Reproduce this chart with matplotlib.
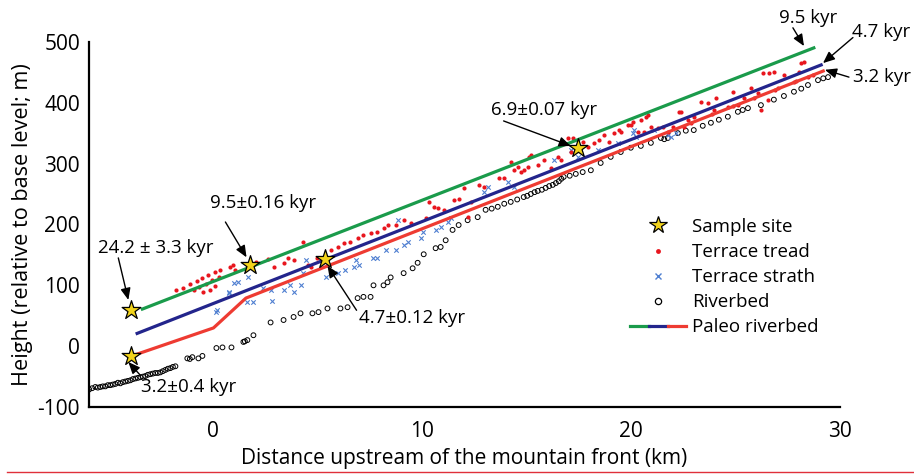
import matplotlib
matplotlib.use('Agg')
import matplotlib.pyplot as plt
from matplotlib.lines import Line2D
from matplotlib.legend_handler import HandlerTuple

plt.rcParams['font.family'] = ['Open Sans', 'DejaVu Sans']
plt.rcParams['axes.unicode_minus'] = False
FS = 13.5

# riverbed profile (km, m)
river_x = [-5.89, -5.75, -5.60, -5.48, -5.36, -5.24, -5.12, -5.00, -4.88, -4.76, -4.64, -4.52,
           -4.40, -4.28, -4.16, -4.04, -3.92, -3.80, -3.68, -3.56, -3.44, -3.32, -3.21, -3.09,
           -2.97, -2.85, -2.73, -2.61, -2.49, -2.37, -2.25, -2.13, -2.01, -1.89, -1.77,
           -1.20, -1.08, -0.96, -0.67, -0.48, 0.19, 0.48, 0.91,
           1.48, 1.55, 1.67, 1.96, 2.78, 3.40, 3.88, 4.21, 4.78, 5.07, 5.50, 6.12, 6.46, 6.94, 7.22,
           7.56, 7.70, 8.18, 8.37, 8.52, 9.14, 9.57, 9.81, 10.10, 10.67, 10.91, 11.15, 11.48,
           11.77, 12.20, 12.68, 13.06, 13.35, 13.64, 13.95, 14.26, 14.57, 14.88, 15.05, 15.22,
           15.40, 15.55, 15.75, 15.93, 16.10, 16.27, 16.42, 16.56, 16.68, 16.79, 17.08, 17.37,
           17.70, 18.09, 18.56, 19.04, 19.52, 20.00, 20.48, 20.96, 21.44, 21.60, 21.77, 22.25,
           22.63, 23.01, 23.44, 23.83, 24.21, 24.64, 25.12, 25.35, 25.60, 26.22, 26.84, 27.32,
           27.80, 28.15, 28.47, 28.95, 29.20, 29.43]
river_y = [-71, -69, -67, -68, -67, -66, -66, -64, -64, -63, -62, -60,
           -61, -59, -58, -57, -56, -54, -53, -52, -51, -50, -49, -47,
           -46, -45, -44, -44, -43, -41, -39, -37, -36, -34, -33,
           -20, -21, -18, -20, -16, -3, -2, -2,
           7, 8, 10, 18, 39, 43, 48, 54, 54, 56, 62, 62, 64, 79, 81,
           81, 100, 100, 105, 113, 120, 128, 137, 151, 161, 163, 174, 191,
           199, 207, 212, 224, 226, 229, 234, 237, 241, 245, 247, 250,
           253, 255, 257, 260, 263, 265, 268, 271, 275, 278, 280, 283,
           286, 289, 301, 311, 319, 326, 329, 334, 342, 340, 342, 350,
           354, 355, 362, 367, 372, 377, 385, 388, 391, 396, 405, 411,
           418, 423, 429, 437, 440, 442]

# terrace tread points
tread_x = [-1.72, -1.39, -1.05, -0.86, -0.72, -0.62, -0.48, -0.43, -0.29, -0.19, -0.10, 0.00,
           0.10, 0.14, 0.29, 0.38, 0.96, 1.10, 0.86, 2.06, 2.68, 2.92, 3.40, 3.59, 3.88, 4.31,
           4.55, 4.69, 5.02, 5.65, 5.98, 6.27, 6.60, 6.94, 7.22, 7.56, 7.89, 8.18, 8.37, 8.76,
           9.14, 9.47, 10.19, 10.33, 10.57, 10.77, 11.05, 11.53, 11.77, 12.01, 12.20, 12.34,
           12.73, 12.97, 13.68, 13.92, 14.26, 14.40, 14.59, 14.74, 14.88, 15.07, 15.12, 15.22,
           15.55, 15.84, 16.17, 16.51, 16.65, 16.99, 17.22, 17.13, 17.70, 17.94, 18.23, 18.47,
           18.71, 18.95, 19.19, 19.43, 19.52, 19.86, 20.00, 20.10, 20.33, 20.48, 20.62, 20.72,
           20.81, 20.96, 21.29, 21.53, 21.77, 22.01, 22.30, 22.39, 22.54, 22.73, 23.01, 23.35,
           23.68, 23.97, 24.07, 24.64, 24.88, 25.12, 25.41, 25.74, 26.08, 26.22, 26.32, 26.60,
           26.84, 27.03, 26.56, 27.32, 27.80, 28.04, 28.13, 28.28, 28.47,
           22.9, 23.9, 24.9, 25.9, 26.9, 27.9, 28.7]
tread_y = [92, 95, 102, 92, 107, 97, 112, 89, 102, 117, 92, 109,
           122, 99, 113, 125, 133, 125, 130, 138, 143, 130, 137, 145, 141, 171,
           133, 130, 145, 158, 163, 169, 171, 178, 183, 186, 188, 194, 199, 199,
           207, 202, 211, 237, 229, 227, 224, 240, 242, 260, 212, 237,
           265, 262, 276, 276, 303, 289, 294, 286, 289, 294, 311, 314,
           298, 306, 293, 311, 306, 342, 342, 319, 336, 327, 334, 339,
           347, 336, 350, 355, 352, 363, 363, 368, 352, 372, 352, 377,
           380, 360, 359, 360, 352, 360, 385, 385, 360, 372, 377, 401,
           400, 388, 408, 393, 418, 396, 408, 424, 416, 388, 449, 449,
           451, 424, 405, 446, 434, 451, 465, 467, 442,
           366, 381, 395, 408, 421, 436, 446]

# terrace strath points
strath_x = [1.05, 0.81, 0.19, 0.24, 0.77, 1.24, 1.72, 1.67, 1.96, 2.87, 2.44, 2.78, 3.40,
            3.73, 3.88, 4.21, 4.35, 4.45, 5.41, 5.98, 6.36, 6.75, 6.84, 6.99, 7.66, 7.89,
            8.28, 8.76, 8.85, 9.14, 9.33, 9.95, 10.05, 10.67, 10.91, 11.24, 11.39, 12.97,
            13.16, 14.11, 14.40, 16.32, 17.13, 17.46, 18.42, 19.38, 20.10, 20.14, 20.24,
            21.10, 21.77, 21.91, 22.15]
strath_y = [104, 87, 56, 59, 89, 105, 113, 72, 72, 74, 95, 92, 92,
            100, 89, 100, 120, 141, 113, 120, 125, 130, 141, 133, 145, 145,
            158, 158, 207, 166, 171, 178, 188, 191, 196, 204, 211, 253,
            262, 270, 262, 306, 322, 311, 322, 334, 350, 355, 344,
            355, 347, 344, 350]

# sample sites
site_x = [-3.9, -3.9, 1.8, 5.4, 17.5]
site_y = [60, -16, 133, 143, 325]

# paleo riverbeds
green_x = [-3.35, 28.75]
green_y = [61, 490]
blue_x = [-3.6, 29.1]
blue_y = [21, 462]
red_x = [-3.6, 0.05, 1.6, 29.2]
red_y = [-13, 30, 79, 452]

# annotations: label, text pos, arrow tail, arrow head
ann_labels = ['24.2 ± 3.3 kyr', '9.5±0.16 kyr', '4.7±0.12 kyr', '3.2±0.4 kyr',
              '6.9±0.07 kyr', '9.5 kyr', '4.7 kyr', '3.2 kyr']
ann_text = [(-2.73, 161), (2.44, 235), (9.52, 46), (-1.15, -67),
            (15.84, 388), (28.47, 539), (31.96, 516), (32.0, 442)]
ann_tail = [(-4.50, 145), (0.62, 204), (6.89, 59), (-3.44, -48),
            (13.92, 370), (27.75, 523), (30.62, 507), (30.43, 442)]
ann_head = [(-4.02, 76), (1.63, 146), (5.50, 132), (-4.02, -26),
            (17.13, 329), (28.28, 493), (29.19, 465), (29.28, 454)]

GREEN = '#1a9b4b'
NAVY = '#23258c'
RED = '#ee3b32'
DOT = '#e8161e'
STRATH = '#4f7fd1'
STAR = '#f2d31b'

fig = plt.figure(figsize=(9.14, 4.75), dpi=100)
ax = fig.add_axes([0.0974, 0.143, 0.8216, 0.769])

ax.scatter(river_x, river_y, s=12, facecolors='none', edgecolors='black', linewidths=0.7, zorder=2)
ax.scatter(strath_x, strath_y, s=10, marker='x', color=STRATH, linewidths=0.8, zorder=2)
ax.scatter(tread_x, tread_y, s=9, color=DOT, linewidths=0, zorder=3)
ax.plot(green_x, green_y, color=GREEN, lw=2.3, zorder=4)
ax.plot(blue_x, blue_y, color=NAVY, lw=2.3, zorder=4)
ax.plot(red_x, red_y, color=RED, lw=2.3, zorder=4)
ax.scatter(site_x, site_y, s=200, marker='*', color=STAR, edgecolors='black', linewidths=0.9, zorder=6)

for lab, tp, tl, hd in zip(ann_labels, ann_text, ann_tail, ann_head):
    ax.text(tp[0], tp[1], lab, fontsize=FS, ha='center', va='center', clip_on=False, zorder=7)
    ax.annotate('', xy=hd, xytext=tl, annotation_clip=False, zorder=7,
                arrowprops=dict(arrowstyle='-|>,head_length=0.7,head_width=0.3',
                                color='black', lw=1.0, shrinkA=0, shrinkB=0))

ax.set_xlim(-5.9, 30)
ax.set_ylim(-100, 500)
ax.set_xticks([0, 10, 20, 30])
ax.set_yticks([-100, 0, 100, 200, 300, 400, 500])
ax.tick_params(length=0, labelsize=15)
ax.tick_params(axis='x', pad=10)
ax.tick_params(axis='y', pad=6.5)
for s in ['top', 'right']:
    ax.spines[s].set_visible(False)
for s in ['left', 'bottom']:
    ax.spines[s].set_linewidth(1.6)
ax.set_xlabel('Distance upstream of the mountain front (km)', fontsize=15, labelpad=4)
ax.set_ylabel('Height (relative to base level; m)', fontsize=15.6, labelpad=3)

h_star = Line2D([], [], ls='none', marker='*', markersize=13, markerfacecolor=STAR,
                markeredgecolor='black', markeredgewidth=0.9)
h_tread = Line2D([], [], ls='none', marker='o', markersize=3.5, color=DOT, markeredgewidth=0)
h_strath = Line2D([], [], ls='none', marker='x', markersize=4.5, color=STRATH, markeredgewidth=1.0)
h_river = Line2D([], [], ls='none', marker='o', markersize=4.5, markerfacecolor='none',
                 markeredgecolor='black', markeredgewidth=0.9)
h_paleo = (Line2D([], [], color=GREEN, lw=2.3), Line2D([], [], color=NAVY, lw=2.3),
           Line2D([], [], color=RED, lw=2.3))
fig.legend([h_star, h_tread, h_strath, h_river, h_paleo],
           ['Sample site', 'Terrace tread', 'Terrace strath', 'Riverbed', 'Paleo riverbed'],
           handler_map={tuple: HandlerTuple(ndivide=None, pad=0)},
           loc='upper left', bbox_to_anchor=(630 / 914, 1 - 218 / 475),
           bbox_transform=fig.transFigure, frameon=False, fontsize=FS,
           handlelength=3.0, handletextpad=0.3, labelspacing=0.38,
           borderpad=0, borderaxespad=0)

fig.add_artist(Line2D([0.008, 1.0], [0.006, 0.006], color='#e0303a', lw=1.0,
                      transform=fig.transFigure))

fig.savefig('out.png', dpi=100)
